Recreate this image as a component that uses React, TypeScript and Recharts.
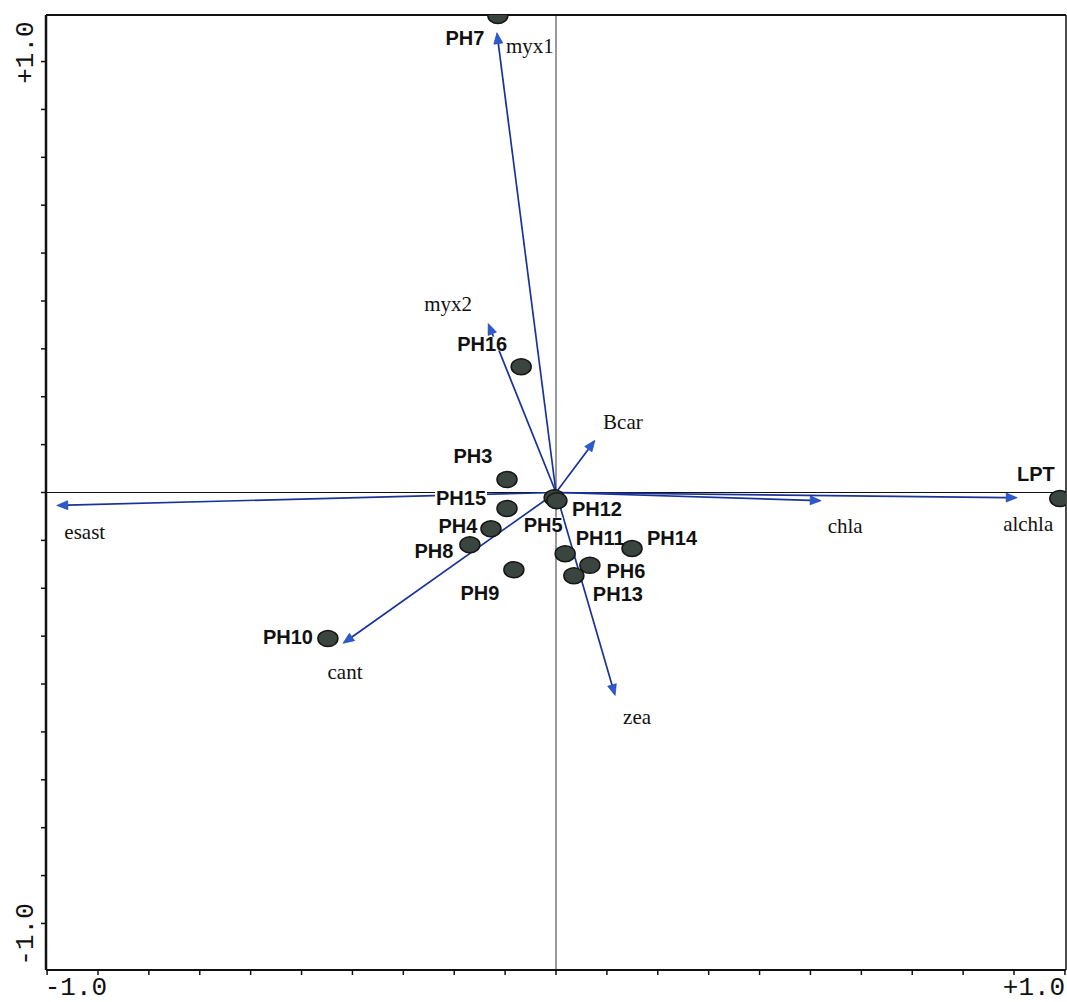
import { ScatterChart, Scatter, XAxis, YAxis, ReferenceLine } from 'recharts';

// sample scores
const siteNames = ['PH7', 'PH16', 'PH3', 'PH15', 'PH4', 'PH8', 'PH9', 'PH10', 'PH5', 'PH12', 'PH11', 'PH14', 'PH6', 'PH13', 'LPT'];
const siteX = [-0.127, -0.076, -0.107, -0.107, -0.142, -0.188, -0.092, -0.498, -0.004, 0.002, 0.020, 0.166, 0.074, 0.039, 1.100];
const siteY = [1.107, 0.292, 0.030, -0.037, -0.084, -0.121, -0.179, -0.339, -0.012, -0.019, -0.142, -0.130, -0.169, -0.193, -0.014];

// pigment vectors
const varNames = ['myx1', 'myx2', 'Bcar', 'esast', 'chla', 'alchla', 'zea', 'cant'];
const varX = [-0.129, -0.148, 0.085, -1.090, 0.579, 1.007, 0.129, -0.465];
const varY = [1.067, 0.392, 0.121, -0.030, -0.019, -0.012, -0.471, -0.350];

const axisLabels = ['-1.0', '+1.0'];
const xTicks = Array.from({ length: 21 }, (_, i) => (i - 10) / 9);
const yTicks = Array.from({ length: 19 }, (_, i) => (i - 9) / 9);

const XDOM = [-1.1135, 1.1135];
const YDOM = [-1.108, 1.108];

const sites = siteNames.map((name, i) => ({ name, x: siteX[i], y: siteY[i] }));

// label placement (px from mark)
const siteLabelOffset: Record<string, [number, number]> = {
  PH7: [-33, 23], PH16: [-39, -23], PH3: [-34, -24], PH15: [-46, -10], PH4: [-33, -3],
  PH8: [-36, 6], PH9: [-34, 23], PH10: [-40, -2], PH5: [-11, 27], PH12: [40, 8],
  PH11: [35, -16], PH14: [40, -11], PH6: [36, 6], PH13: [44, 18], LPT: [-24, -25],
};
const varLabelOffset: Record<string, [number, number]> = {
  myx1: [33, 13], myx2: [-40, -20], Bcar: [28, -18], esast: [28, 27],
  chla: [24, 25], alchla: [11, 26], zea: [22, 22], cant: [2, 29],
};

const serif = '"Liberation Serif", "DejaVu Serif", serif';
const sans = '"Liberation Sans", Arial, sans-serif';
const mono = '"Liberation Mono", "DejaVu Sans Mono", monospace';

function XTick(props: any) {
  const { x, payload } = props;
  const v = payload.value;
  if (Math.abs(Math.abs(v) - 1) > 1e-6) return null;
  const label = v < 0 ? axisLabels[0] : axisLabels[1];
  const cx = v < 0 ? x - 22 : x + 20;
  return (
    <text x={cx} y={995} textAnchor="middle" fontFamily={mono} fontSize={26} fill="#111">
      {label}
    </text>
  );
}

function YTick(props: any) {
  const { y, payload } = props;
  const v = payload.value;
  if (Math.abs(Math.abs(v) - 1) > 1e-6) return null;
  const label = v < 0 ? axisLabels[0] : axisLabels[1];
  const cy = v < 0 ? y + 11 : y - 9;
  return (
    <text x={33} y={cy} transform={`rotate(-90, 33, ${cy})`} textAnchor="middle" fontFamily={mono} fontSize={26} fill="#111">
      {label}
    </text>
  );
}

function arrowShape(name: string) {
  return (p: any) => {
    const { x1, y1, x2, y2 } = p;
    const ang = Math.atan2(y2 - y1, x2 - x1);
    const len = 11;
    const hw = 4.5;
    const bx = x2 - len * Math.cos(ang);
    const by = y2 - len * Math.sin(ang);
    const px = -Math.sin(ang) * hw;
    const py = Math.cos(ang) * hw;
    const [dx, dy] = varLabelOffset[name];
    return (
      <g>
        <line x1={x1} y1={y1} x2={bx} y2={by} stroke="#1a3398" strokeWidth={1.7} />
        <polygon
          points={`${x2},${y2} ${bx + px},${by + py} ${bx - px},${by - py}`}
          fill="#2a5bd0"
          stroke="#1a3398"
          strokeWidth={0.6}
        />
        <text x={x2 + dx} y={y2 + dy} textAnchor="middle" dominantBaseline="central" fontFamily={serif} fontSize={21} fill="#111">
          {name}
        </text>
      </g>
    );
  };
}

function SiteLabel(props: any) {
  const { cx, cy, payload } = props;
  const [dx, dy] = siteLabelOffset[payload.name];
  const w = payload.name.length * 12.5 + 2;
  return (
    <g>
      <rect x={cx + dx - w / 2} y={cy + dy - 7} width={w} height={14} fill="#fff" />
      <text x={cx + dx} y={cy + dy} textAnchor="middle" dominantBaseline="central" fontFamily={sans} fontWeight="bold" fontSize={20} fill="#111">
        {payload.name}
      </text>
    </g>
  );
}

function SiteDot(props: any) {
  const { cx, cy } = props;
  return <ellipse cx={cx} cy={cy} rx={10} ry={8} fill="#3a4540" stroke="#151515" strokeWidth={1.5} />;
}

export default function App() {
  return (
    <div style={{ position: 'absolute', left: 0, top: 0, background: '#fff' }}>
      <ScatterChart width={1067} height={1002} margin={{ top: 14, right: 0, bottom: 0, left: 0 }}>
        <XAxis
          type="number"
          dataKey="x"
          domain={XDOM}
          ticks={xTicks}
          interval={0}
          height={32}
          tickSize={5}
          tick={<XTick />}
          axisLine={{ stroke: '#111', strokeWidth: 2 }}
          tickLine={{ stroke: '#111', strokeWidth: 1.5 }}
          allowDataOverflow
        />
        <YAxis
          type="number"
          dataKey="y"
          domain={YDOM}
          ticks={yTicks}
          interval={0}
          width={46}
          tickSize={5}
          tick={<YTick />}
          axisLine={{ stroke: '#111', strokeWidth: 2.5 }}
          tickLine={{ stroke: '#111', strokeWidth: 1.5 }}
          allowDataOverflow
        />
        <XAxis xAxisId="top" orientation="top" type="number" domain={XDOM} height={1} tick={false} tickLine={false} axisLine={{ stroke: '#111', strokeWidth: 2 }} />
        <YAxis yAxisId="right" orientation="right" type="number" domain={YDOM} width={1} tick={false} tickLine={false} axisLine={{ stroke: '#111', strokeWidth: 1.5 }} />

        <ReferenceLine y={0} stroke="#111" strokeWidth={1} />
        <ReferenceLine x={0} stroke="#555" strokeWidth={1.2} />

        {varNames.map((name, i) => (
          <ReferenceLine
            key={name}
            segment={[{ x: 0, y: 0 }, { x: varX[i], y: varY[i] }]}
            shape={arrowShape(name)}
          />
        ))}

        <Scatter data={sites} shape={<SiteLabel />} isAnimationActive={false} />
        <Scatter data={sites} shape={<SiteDot />} isAnimationActive={false} />
      </ScatterChart>
    </div>
  );
}
